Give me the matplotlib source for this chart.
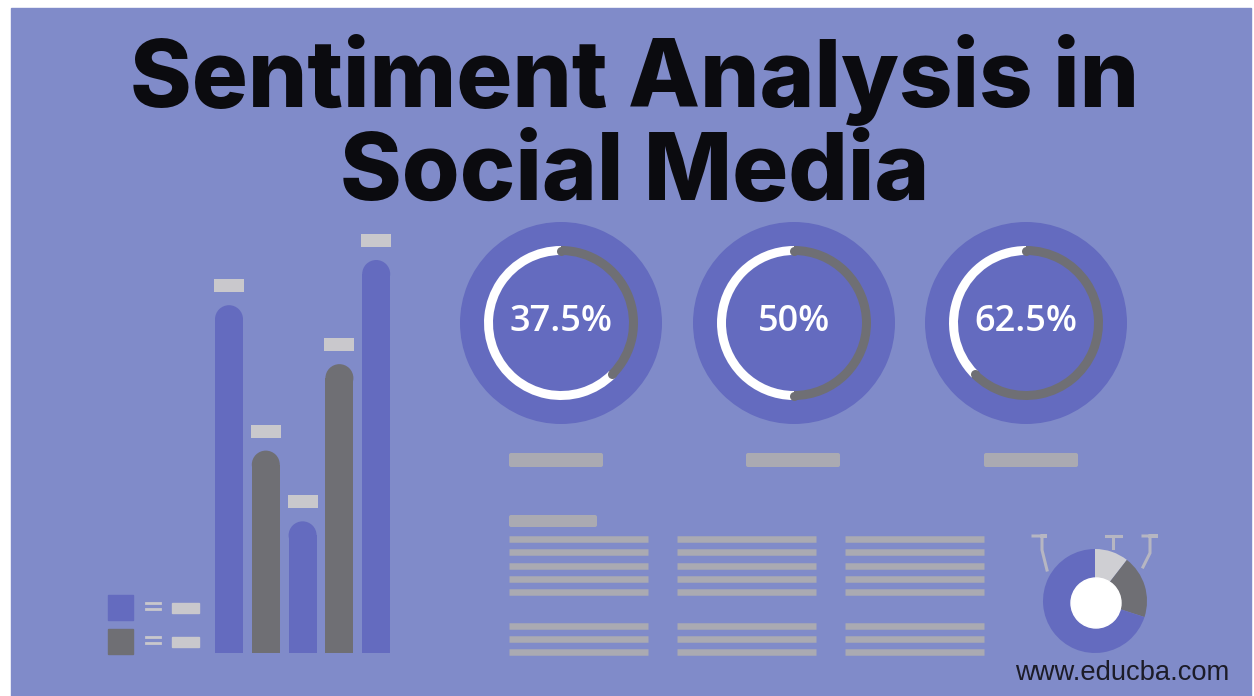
import matplotlib
matplotlib.use("Agg")
import matplotlib.pyplot as plt
import numpy as np
from matplotlib.patches import Rectangle, Circle, FancyBboxPatch

# ---- data ----
bar_values = [88.5, 51.5, 33.5, 73.5, 100.0]
bar_kinds = ["blue", "gray", "blue", "gray", "blue"]
gauge_values = [37.5, 50.0, 62.5]
gauge_labels = ["37.5%", "50%", "62.5%"]
mini_shares = [10.5, 19.5, 70.0]
title_lines = ["Sentiment Analysis in", "Social Media"]
footer = "www.educba.com"

# ---- style ----
W, H, DPI = 1254, 696, 100
BG = "#808bc9"
BLUE = "#646bbf"
GRAY = "#6f6f74"
LIGHT = "#c9c8cc"
PLACE = "#aaaab2"
colors = {"blue": BLUE, "gray": GRAY}

fig = plt.figure(figsize=(W / DPI, H / DPI), dpi=DPI, facecolor="white")


def px_axes(x0, y0, x1, y1):
    # axes placed by pixel box (y measured from top)
    return fig.add_axes([x0 / W, 1 - y1 / H, (x1 - x0) / W, (y1 - y0) / H])


# background canvas in pixel units
bg = fig.add_axes([0, 0, 1, 1])
bg.set_xlim(0, W)
bg.set_ylim(H, 0)
bg.axis("off")
bg.add_patch(Rectangle((11, 8), W - 14, H - 8, color=BG, zorder=0))

# ---- title ----
renderer = fig.canvas.get_renderer()


def fit(t, width):
    bb = t.get_window_extent(renderer=renderer)
    t.set_fontsize(t.get_fontsize() * width / bb.width)


t1 = bg.text(635, 107, title_lines[0], ha="center", va="baseline", fontsize=60,
             family="Inter", weight="heavy", color="#0b0b0f")
t2 = bg.text(635, 200, title_lines[1], ha="center", va="baseline", fontsize=60,
             family="Inter", weight="heavy", color="#0b0b0f")
fit(t1, 1010)
fit(t2, 590)

# ---- bar chart ----
step = 36.8
first_x = 229
top_px, base_px = 230, 653
ax = px_axes(first_x - step / 2, top_px, first_x + step * 4.5, base_px)
ymax = 100 * (base_px - top_px) / (653 - 260)
ax.set_xlim(-0.5, 4.5)
ax.set_ylim(0, ymax)
ax.axis("off")
per_px = ymax / (base_px - top_px)
cap = 14 * per_px
xs = np.arange(len(bar_values))
vals = np.array(bar_values)
bcol = [colors[k] for k in bar_kinds]
ax.bar(xs, vals - cap, width=28 / step, color=bcol, linewidth=0)
ax.scatter(xs, vals - cap, s=(28 * 72 / DPI) ** 2, c=bcol, linewidths=0, zorder=3)
# blank value labels above bars
ax.bar(xs, 13 * per_px, bottom=vals + 13 * per_px, width=30 / step, color=LIGHT, linewidth=0)

# legend
for (y0, kind) in [(595, "blue"), (629, "gray")]:
    bg.add_patch(Rectangle((108, y0), 25, 25, color=colors[kind], zorder=2))
    for dy in (8, 14):
        bg.plot([146, 160], [y0 + dy, y0 + dy], color=LIGHT, lw=2, zorder=2)
    bg.add_patch(Rectangle((172, y0 + 8), 27, 10, color=LIGHT, zorder=2))

# ---- gauges ----
gauge_cx = [561, 794, 1026]
gauge_cy = 323
R_DISC, R_RING, RING_W = 101, 77, 9
for cx, v, lab in zip(gauge_cx, gauge_values, gauge_labels):
    g = px_axes(cx - 105, gauge_cy - 105, cx + 105, gauge_cy + 105)
    g.pie([1], radius=R_DISC, colors=[BLUE], wedgeprops=dict(linewidth=0))
    g.pie([v, 100 - v], radius=R_RING, startangle=90, counterclock=False,
          colors=[GRAY, "white"], wedgeprops=dict(width=RING_W, linewidth=0))
    # rounded ends of the gray arc
    rm = R_RING - RING_W / 2
    ang = np.radians(90 - np.array([0.0, v * 3.6]))
    g.scatter(rm * np.cos(ang), rm * np.sin(ang), s=(RING_W * 72 / DPI) ** 2,
              color=GRAY, linewidths=0, zorder=3)
    g.set_xlim(-105, 105)
    g.set_ylim(-105, 105)
    g.set_aspect("equal")
    g.axis("off")
    g.text(0, 1, lab, ha="center", va="center", fontsize=26, family="Open Sans",
           weight="semibold", color="white")

# caption placeholders under gauges
for x0 in [509, 746, 984]:
    bg.add_patch(FancyBboxPatch((x0, 453), 94, 14, boxstyle="round,pad=0,rounding_size=2",
                                color=PLACE, linewidth=0, zorder=2))

# text block placeholders
bg.add_patch(FancyBboxPatch((509, 515), 88, 12, boxstyle="round,pad=0,rounding_size=2",
                            color=PLACE, linewidth=0, zorder=2))
rows = [539, 552, 565.5, 579, 592, 625.5, 639, 651.5]
for x0 in [509, 677, 845]:
    bg.hlines(rows, x0, x0 + 139, color=PLACE, lw=6.5 * 72 / DPI, zorder=2)

# ---- mini donut ----
mcx, mcy = 1095, 601
m = px_axes(mcx - 60, mcy - 60, mcx + 60, mcy + 60)
m.pie(mini_shares, radius=52, startangle=90, counterclock=False,
      colors=["#cfcfd3", GRAY, BLUE], wedgeprops=dict(linewidth=0))
m.add_patch(Circle((1, -2), 25, color="white", zorder=3))
m.set_xlim(-60, 60)
m.set_ylim(-60, 60)
m.set_aspect("equal")
m.axis("off")

# callout brackets
LINE = "#b6b6c2"
for pts in [[(-62, -65), (-48, -65), (-53, -65), (-53, -51), (-48, -31)],
            [(11, -65), (27, -65), (18, -65), (18, -53)],
            [(48, -65), (63, -65), (55, -65), (55, -48), (48, -34)]]:
    p = np.array(pts)
    bg.plot(mcx + p[:, 0], mcy + p[:, 1], color=LINE, lw=2.2, zorder=2,
            solid_joinstyle="miter")

# footer
tf = bg.text(1015, 680, footer, ha="left", va="baseline", fontsize=20,
             family="Liberation Sans", color="#1c1c28")
fit(tf, 214)

fig.savefig("out.png", dpi=DPI, facecolor="white")
